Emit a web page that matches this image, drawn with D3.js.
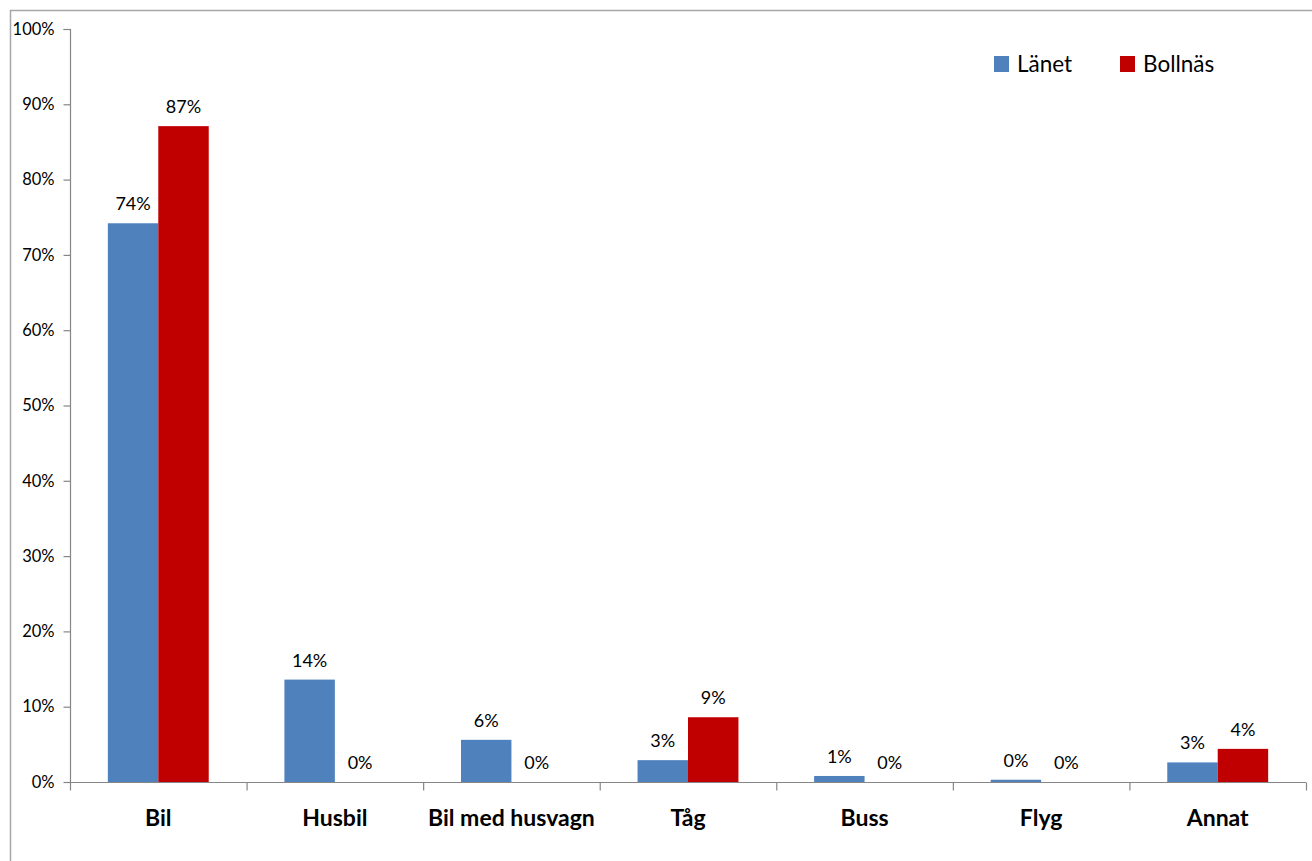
<!DOCTYPE html>
<html><head><meta charset="utf-8">
<script src="https://cdn.jsdelivr.net/npm/d3@7"></script>
<style>body{margin:0;background:#fff;}svg{display:block;}</style>
</head><body>
<script>
const categories = ["Bil","Husbil","Bil med husvagn","Tåg","Buss","Flyg","Annat"];
const seriesNames = ["Länet","Bollnäs"];
const lanet = [0.742,0.136,0.056,0.029,0.008,0.003,0.026];
const bollnas = [0.871,0,0,0.086,0,0,0.044];
const yTicks = [0,0.1,0.2,0.3,0.4,0.5,0.6,0.7,0.8,0.9,1.0];
const colors = ["#4F81BD","#C00000"];

const W=1312,H=861;
const mLeft=70,mRight=1306,mTop=29,mBottom=782;
const font="Lato, 'Open Sans', sans-serif";
const svg=d3.select("body").append("svg").attr("width",W).attr("height",H);
svg.append("rect").attr("x",10.5).attr("y",10.5).attr("width",1400).attr("height",1000)
  .attr("fill","#fff").attr("stroke","#a6a6a6").attr("stroke-width",1.5);

const x=d3.scaleBand().domain(categories).range([mLeft,mRight]).paddingInner(0).paddingOuter(0);
const xi=d3.scaleBand().domain(seriesNames).range([0,x.bandwidth()]).paddingInner(0).paddingOuter(0.75);
const y=d3.scaleLinear().domain([0,1]).range([mBottom,mTop]);

const data=[lanet,bollnas];
// y axis
const yAxis=d3.axisLeft(y).tickValues(yTicks).tickFormat(d3.format(".0%")).tickSize(7).tickPadding(9);
const ga=svg.append("g").attr("transform",`translate(${mLeft+0.5},0)`).call(yAxis);
ga.selectAll("path,line").attr("stroke","#868686").attr("stroke-width",1.2);
ga.select(".domain").attr("d",`M-7,${mTop+0.5}H0V${mBottom}`);
ga.selectAll("text").attr("font-family",font).attr("font-size",16.5).attr("fill","#000");

// bars
categories.forEach((c,i)=>{
  data.forEach((arr,s)=>{
    const v=arr[i];
    const bx=x(c)+xi(seriesNames[s]);
    svg.append("rect").attr("x",bx).attr("y",y(v)).attr("width",xi.bandwidth()).attr("height",mBottom-y(v))
      .attr("fill",colors[s]);
    svg.append("text").attr("x",bx+xi.bandwidth()/2).attr("y",y(v)-13)
      .attr("text-anchor","middle").attr("font-family",font).attr("font-size",18).attr("fill","#000")
      .text(d3.format(".0%")(v));
  });
});

// x axis
const xAxis=d3.axisBottom(x).tickSize(0).tickPadding(0).tickFormat("");
const gx=svg.append("g").attr("transform",`translate(0,${mBottom+0.5})`).call(xAxis);
gx.select(".domain").attr("stroke","#868686").attr("stroke-width",1.2).attr("d",`M${mLeft},0H${mRight}`);
const bounds=categories.map(c=>x(c)).concat([mRight]);
gx.selectAll(".bt").data(bounds).enter().append("line").attr("class","bt")
  .attr("x1",d=>d+0.5).attr("x2",d=>d+0.5).attr("y1",0).attr("y2",8).attr("stroke","#868686").attr("stroke-width",1.2);
gx.selectAll(".cl").data(categories).enter().append("text").attr("class","cl")
  .attr("x",d=>x(d)+x.bandwidth()/2).attr("y",43).attr("text-anchor","middle")
  .attr("font-family",font).attr("font-weight","bold").attr("font-size",23).attr("fill","#000").text(d=>d);

// legend
const legX=[994,1120];
seriesNames.forEach((n,s)=>{
  svg.append("rect").attr("x",legX[s]).attr("y",56).attr("width",15).attr("height",16).attr("fill",colors[s]);
  svg.append("text").attr("x",legX[s]+23).attr("y",72).attr("font-family",font).attr("font-size",22.5).attr("fill","#000").text(n);
});
</script>
</body></html>
